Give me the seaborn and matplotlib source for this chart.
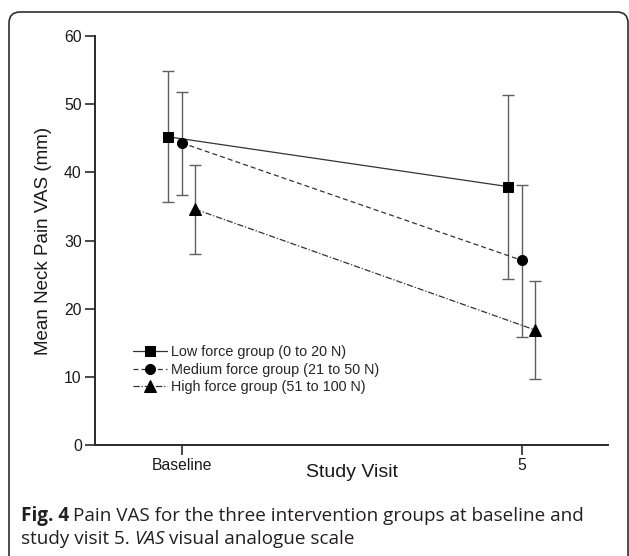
import matplotlib
matplotlib.use("Agg")
import matplotlib.pyplot as plt
import pandas as pd
import seaborn as sns
from matplotlib.patches import FancyBboxPatch

# ---------- data ----------
visits = ["Baseline", "5"]
groups = ["Low force group (0 to 20 N)",
          "Medium force group (21 to 50 N)",
          "High force group (51 to 100 N)"]
low_mean = [45.2, 37.9]
low_lo = [35.6, 24.4]
low_hi = [54.9, 51.3]
med_mean = [44.3, 27.1]
med_lo = [36.7, 15.9]
med_hi = [51.8, 38.2]
high_mean = [34.6, 16.9]
high_lo = [28.0, 9.7]
high_hi = [41.1, 24.0]

# ---------- style ----------
offsets = [-0.041, 0.0, 0.039]
markers = ["s", "o", "^"]
msizes = [6.8, 7.2, 8.0]
lstyles = ["-", (0, (4, 2.5)), (0, (5, 1.5, 1, 1.5))]

rows = []
for g, m, lo, hi in zip(groups, [low_mean, med_mean, high_mean],
                        [low_lo, med_lo, high_lo], [low_hi, med_hi, high_hi]):
    for i, v in enumerate(visits):
        rows.append({"group": g, "visit": v, "idx": i, "mean": m[i], "lo": lo[i], "hi": hi[i]})
df = pd.DataFrame(rows)

sns.set_style("ticks")
plt.rcParams["font.family"] = ["Liberation Sans", "DejaVu Sans"]

W, H = 629, 556
fig = plt.figure(figsize=(W / 100, H / 100), dpi=100)
ax = fig.add_axes([95 / W, 1 - 445.3 / H, 513 / W, 409.6 / H])

for g, off, mk, ms, ls in zip(groups, offsets, markers, msizes, lstyles):
    sub = df[df["group"] == g].copy()
    sub["pos"] = sub["idx"] + off
    ax.errorbar(sub["pos"], sub["mean"],
                yerr=[sub["mean"] - sub["lo"], sub["hi"] - sub["mean"]],
                fmt="none", ecolor="#5f5f5f", elinewidth=1.0, capsize=4, capthick=1.0, zorder=1)
    sns.lineplot(data=sub, x="pos", y="mean", ax=ax, sort=False, errorbar=None,
                 color="#333333", linewidth=0.9, linestyle=ls, marker=mk, markersize=ms,
                 markerfacecolor="black", markeredgecolor="black", label=g, zorder=3)

ax.set_xlim(-0.255, 1.254)
ax.set_ylim(0, 60)
ax.set_xticks([0, 1], visits)
ax.set_yticks(range(0, 61, 10))
sns.despine(ax=ax)
for s in ["left", "bottom"]:
    ax.spines[s].set_linewidth(1.4)
    ax.spines[s].set_color("#2a2a2a")
ax.tick_params(length=7, width=1.2, color="#2a2a2a", labelsize=11.3, labelcolor="#1a1a1a", pad=2.5)

ax.set_ylabel("Mean Neck Pain VAS (mm)", fontsize=13.5, color="#1a1a1a")
ax.yaxis.set_label_coords(-0.084, 0.5)
ax.set_xlabel("Study Visit", fontsize=14, color="#1a1a1a")
ax.xaxis.set_label_coords(0.5, -0.045)

ax.legend(loc="upper left", bbox_to_anchor=(0.074, 0.245), frameon=False,
          fontsize=10.4, handlelength=2.35, handletextpad=0.25, labelspacing=0.25,
          borderpad=0, borderaxespad=0)

# rounded frame around the figure panel
frame = FancyBboxPatch((9, -20), 619, H - 12 + 20, boxstyle="round,pad=0,rounding_size=11",
                       transform=None, fill=False, edgecolor="#2e2e2e", linewidth=1.2)
fig.patches.append(frame)

# caption
cap_kw = dict(fontsize=13.6, color="#231f20", family=["Open Sans", "DejaVu Sans"], va="center")
fig.canvas.draw()
r = fig.canvas.get_renderer()
t1 = fig.text(21 / W, 1 - 516 / H, "Fig. 4", fontweight="bold", **cap_kw)
bb = t1.get_window_extent(r)
fig.text((bb.x1 + 4) / W, 1 - 516 / H,
         "Pain VAS for the three intervention groups at baseline and", **cap_kw)
t2 = fig.text(21 / W, 1 - 539 / H, "study visit 5. ", **cap_kw)
bb = t2.get_window_extent(r)
t3 = fig.text(bb.x1 / W, 1 - 539 / H, "VAS", style="italic", **cap_kw)
bb = t3.get_window_extent(r)
fig.text((bb.x1 + 4) / W, 1 - 539 / H, "visual analogue scale", **cap_kw)

fig.savefig("out.png", dpi=100)
